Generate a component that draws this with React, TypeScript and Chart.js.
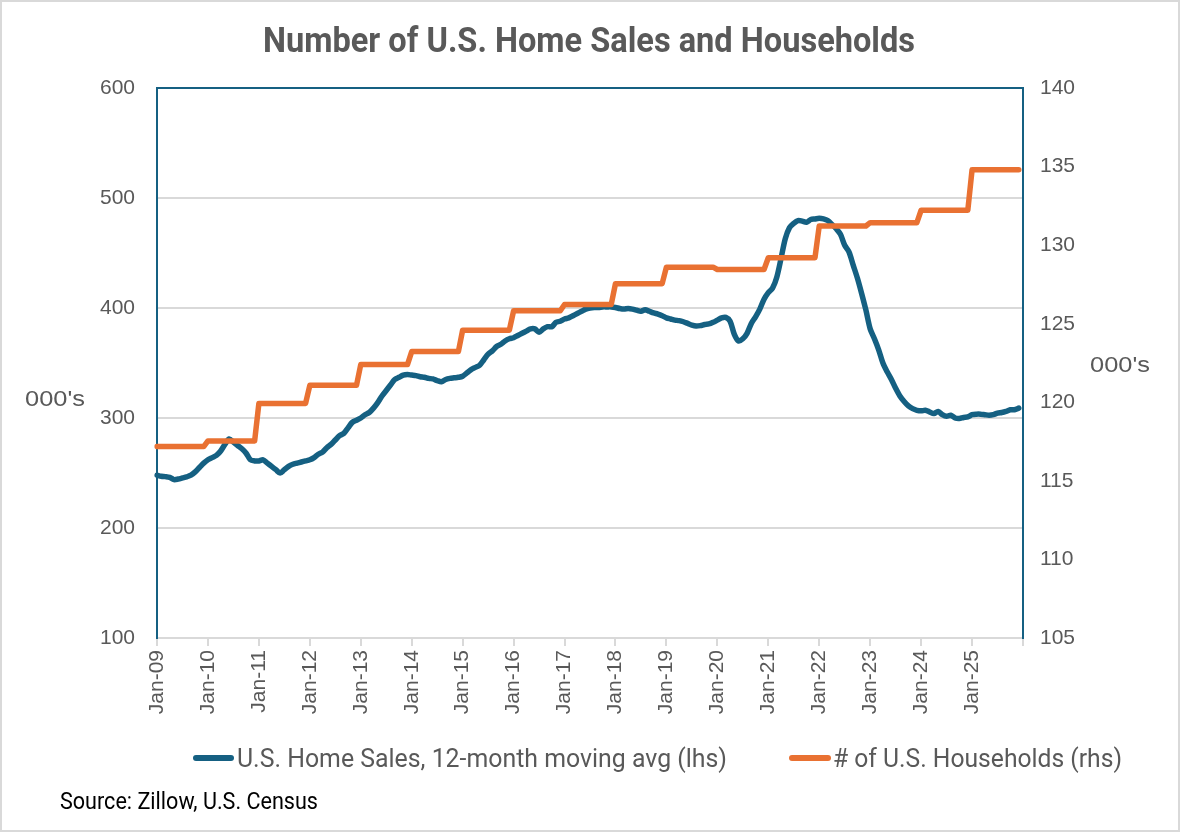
import React, { useEffect, useRef } from "react";
import { Chart, registerables } from "chart.js";

Chart.register(...registerables);

const TITLE = "Number of U.S. Home Sales and Households";
const SERIES_SALES = "U.S. Home Sales, 12-month moving avg (lhs)";
const SERIES_HH = "# of U.S. Households (rhs)";
const SOURCE = "Source: Zillow, U.S. Census";
const AXIS_UNIT = "000's";

const MONTHS = ["Jan", "Feb", "Mar", "Apr", "May", "Jun", "Jul", "Aug", "Sep", "Oct", "Nov", "Dec"];
const YEARS = ["09", "10", "11", "12", "13", "14", "15", "16", "17", "18", "19", "20", "21", "22", "23", "24", "25", "26"];

// U.S. home sales, 12-month moving average (000's), monthly, one row per year 2009..2025
const sales2009 = [248, 247, 246.7, 246, 244, 244.5, 245.5, 246.5, 248, 251, 255, 259];
const sales2010 = [262, 264, 266, 270, 276, 281, 278, 275, 272, 268, 262, 261];
const sales2011 = [261, 262, 259, 256, 253, 250, 253, 256, 258, 259, 260, 261];
const sales2012 = [262, 264, 267, 269, 273, 276, 280, 284, 286, 291, 296, 298];
const sales2013 = [300, 303, 305, 309, 314, 320, 325, 330, 335, 337, 339, 339.5];
const sales2014 = [339, 338.5, 337.5, 337, 336, 335.5, 334, 333, 335, 336, 336.5, 337];
const sales2015 = [338, 341, 344, 346, 348, 353, 358, 361, 365, 367, 370, 372];
const sales2016 = [373, 375, 377, 379, 381, 381, 378, 381, 383, 383, 387, 388];
const sales2017 = [390, 391, 393, 395, 397, 399, 400, 400.5, 400.5, 401, 401, 401];
const sales2018 = [400.5, 399.5, 399, 399.5, 399, 398, 397, 398.5, 397, 395.5, 394.5, 393];
const sales2019 = [391, 390, 389, 388.5, 387.5, 386, 384.5, 383.6, 384, 385, 385.5, 387];
const sales2020 = [389, 391, 391.5, 388, 376, 370, 372, 377, 386, 392, 399, 408];
const sales2021 = [414, 418, 428, 445, 463, 473, 477, 479.5, 479, 478, 480.5, 481];
const sales2022 = [481.5, 481, 479.5, 476, 472, 467, 457, 451, 439, 427, 413, 398];
const sales2023 = [381, 372, 362, 350, 342, 335, 327, 320, 315, 311, 308.5, 307];
const sales2024 = [306.5, 307, 305.5, 304, 306, 303, 301.5, 302.5, 300, 299.5, 300.5, 301];
const sales2025 = [303, 303.5, 303.5, 303, 302.5, 303, 304.5, 305, 306, 307.5, 307.5, 309];

// Number of U.S. households (millions), annual, 2009..2025
const households = [117.18, 117.54, 119.93, 121.08, 122.4, 123.23, 124.59, 125.82, 126.22, 127.55, 128.6, 128.45, 129.2, 131.22, 131.43, 132.22, 134.79];

const LEFT_TICKS = { min: 100, max: 600, step: 100 };
const RIGHT_TICKS = { min: 105, max: 140, step: 5 };

const BLUE = "#156082";
const ORANGE = "#E97132";
const GRID = "#d9d9d9";
const TEXT = "#595959";

function drawFit(ctx: CanvasRenderingContext2D, text: string, x: number, baseline: number, width: number, font: string, color: string) {
  ctx.save();
  ctx.font = font;
  const w = ctx.measureText(text).width;
  ctx.translate(x, baseline);
  ctx.scale(width / w, 1);
  ctx.fillStyle = color;
  ctx.textAlign = "left";
  ctx.textBaseline = "alphabetic";
  ctx.fillText(text, 0, 0);
  ctx.restore();
}

export default function App() {
  const ref = useRef<HTMLCanvasElement | null>(null);

  useEffect(() => {
    const canvas = ref.current;
    if (!canvas) return;

    const salesRows = [sales2009, sales2010, sales2011, sales2012, sales2013, sales2014, sales2015, sales2016, sales2017, sales2018, sales2019, sales2020, sales2021, sales2022, sales2023, sales2024, sales2025];
    const sales: number[] = [];
    salesRows.forEach((r) => sales.push(...r));
    const hh: number[] = [];
    households.forEach((v) => {
      for (let m = 0; m < 12; m++) hh.push(v);
    });
    const labels: string[] = [];
    YEARS.forEach((y) => MONTHS.forEach((m) => labels.push(`${m}-${y}`)));
    labels.length = sales.length + 1; // axis runs to Jan-26

    const decor = {
      id: "decor",
      beforeDraw(chart: any) {
        const c = chart.ctx as CanvasRenderingContext2D;
        c.save();
        c.fillStyle = "#ffffff";
        c.fillRect(0, 0, chart.width, chart.height);
        c.strokeStyle = GRID;
        c.lineWidth = 2;
        c.strokeRect(1, 1, chart.width - 2, chart.height - 2);
        c.restore();
      },
      afterDraw(chart: any) {
        const c = chart.ctx as CanvasRenderingContext2D;
        const a = chart.chartArea;
        c.save();
        c.strokeStyle = BLUE;
        c.lineWidth = 2;
        c.beginPath();
        c.moveTo(a.left - 1, a.top);
        c.lineTo(a.right + 1, a.top);
        c.stroke();
        c.restore();

        drawFit(c, TITLE, 263, 52, 652, "bold 35px Roboto", TEXT);
        drawFit(c, AXIS_UNIT, 25, 406, 60, "22px 'Liberation Sans'", TEXT);
        drawFit(c, AXIS_UNIT, 1090, 372, 60, "22px 'Liberation Sans'", TEXT);

        // legend
        c.save();
        c.lineCap = "round";
        c.lineWidth = 6;
        c.strokeStyle = BLUE;
        c.beginPath();
        c.moveTo(196, 758);
        c.lineTo(231, 758);
        c.stroke();
        c.strokeStyle = ORANGE;
        c.beginPath();
        c.moveTo(792, 758);
        c.lineTo(828, 758);
        c.stroke();
        c.restore();
        drawFit(c, SERIES_SALES, 237, 767, 490, "26px Roboto", TEXT);
        drawFit(c, SERIES_HH, 833, 767, 289, "26px Roboto", TEXT);
        drawFit(c, SOURCE, 60, 809, 258, "23px Roboto", "#000000");
      },
    };

    const chart = new Chart(canvas, {
      type: "line",
      data: {
        labels,
        datasets: [
          {
            label: SERIES_SALES,
            data: sales,
            yAxisID: "y",
            borderColor: BLUE,
            backgroundColor: BLUE,
            borderWidth: 5.5,
            pointRadius: 0,
            tension: 0.3,
            order: 1,
            borderCapStyle: "round",
            borderJoinStyle: "round",
          },
          {
            label: SERIES_HH,
            data: hh,
            yAxisID: "y1",
            borderColor: ORANGE,
            backgroundColor: ORANGE,
            borderWidth: 5.5,
            pointRadius: 0,
            tension: 0,
            order: 0,
            borderCapStyle: "round",
            borderJoinStyle: "round",
          },
        ],
      },
      options: {
        responsive: false,
        animation: false,
        layout: { padding: { top: 88, left: 0, right: 0, bottom: 0 } },
        plugins: {
          legend: { display: false },
          title: { display: false },
          tooltip: { enabled: false },
        },
        scales: {
          x: {
            type: "category",
            offset: false,
            afterFit: (s: any) => {
              s.height = 194;
            },
            border: { display: true, color: GRID, width: 2 },
            grid: {
              drawOnChartArea: false,
              drawTicks: true,
              tickLength: 8,
              lineWidth: 2,
              color: (ctx: any) => (ctx.index % 12 === 0 ? GRID : "rgba(0,0,0,0)"),
            },
            ticks: {
              autoSkip: false,
              maxRotation: 90,
              minRotation: 90,
              padding: 4,
              color: TEXT,
              font: { family: "'Liberation Sans'", size: 21 },
              callback: (_v: any, i: number) => (i % 12 === 0 && i < sales.length ? labels[i] : ""),
            },
          },
          y: {
            position: "left",
            min: LEFT_TICKS.min,
            max: LEFT_TICKS.max,
            afterFit: (s: any) => {
              s.width = 157;
            },
            border: { display: true, color: BLUE, width: 2 },
            grid: { color: GRID, lineWidth: 2, drawTicks: false },
            ticks: {
              stepSize: LEFT_TICKS.step,
              padding: 22,
              color: TEXT,
              font: { family: "'Liberation Sans'", size: 21 },
            },
          },
          y1: {
            position: "right",
            min: RIGHT_TICKS.min,
            max: RIGHT_TICKS.max,
            afterFit: (s: any) => {
              s.width = 157;
            },
            border: { display: true, color: BLUE, width: 2 },
            grid: { drawOnChartArea: false, drawTicks: false },
            ticks: {
              stepSize: RIGHT_TICKS.step,
              padding: 17,
              color: TEXT,
              font: { family: "'Liberation Sans'", size: 21 },
            },
          },
        },
      },
      plugins: [decor],
    } as any);

    return () => chart.destroy();
  }, []);

  return (
    <div style={{ position: "fixed", left: 0, top: 0, width: 1180, height: 832, background: "#fff" }}>
      <canvas ref={ref} width={1180} height={832} style={{ display: "block" }} />
    </div>
  );
}
